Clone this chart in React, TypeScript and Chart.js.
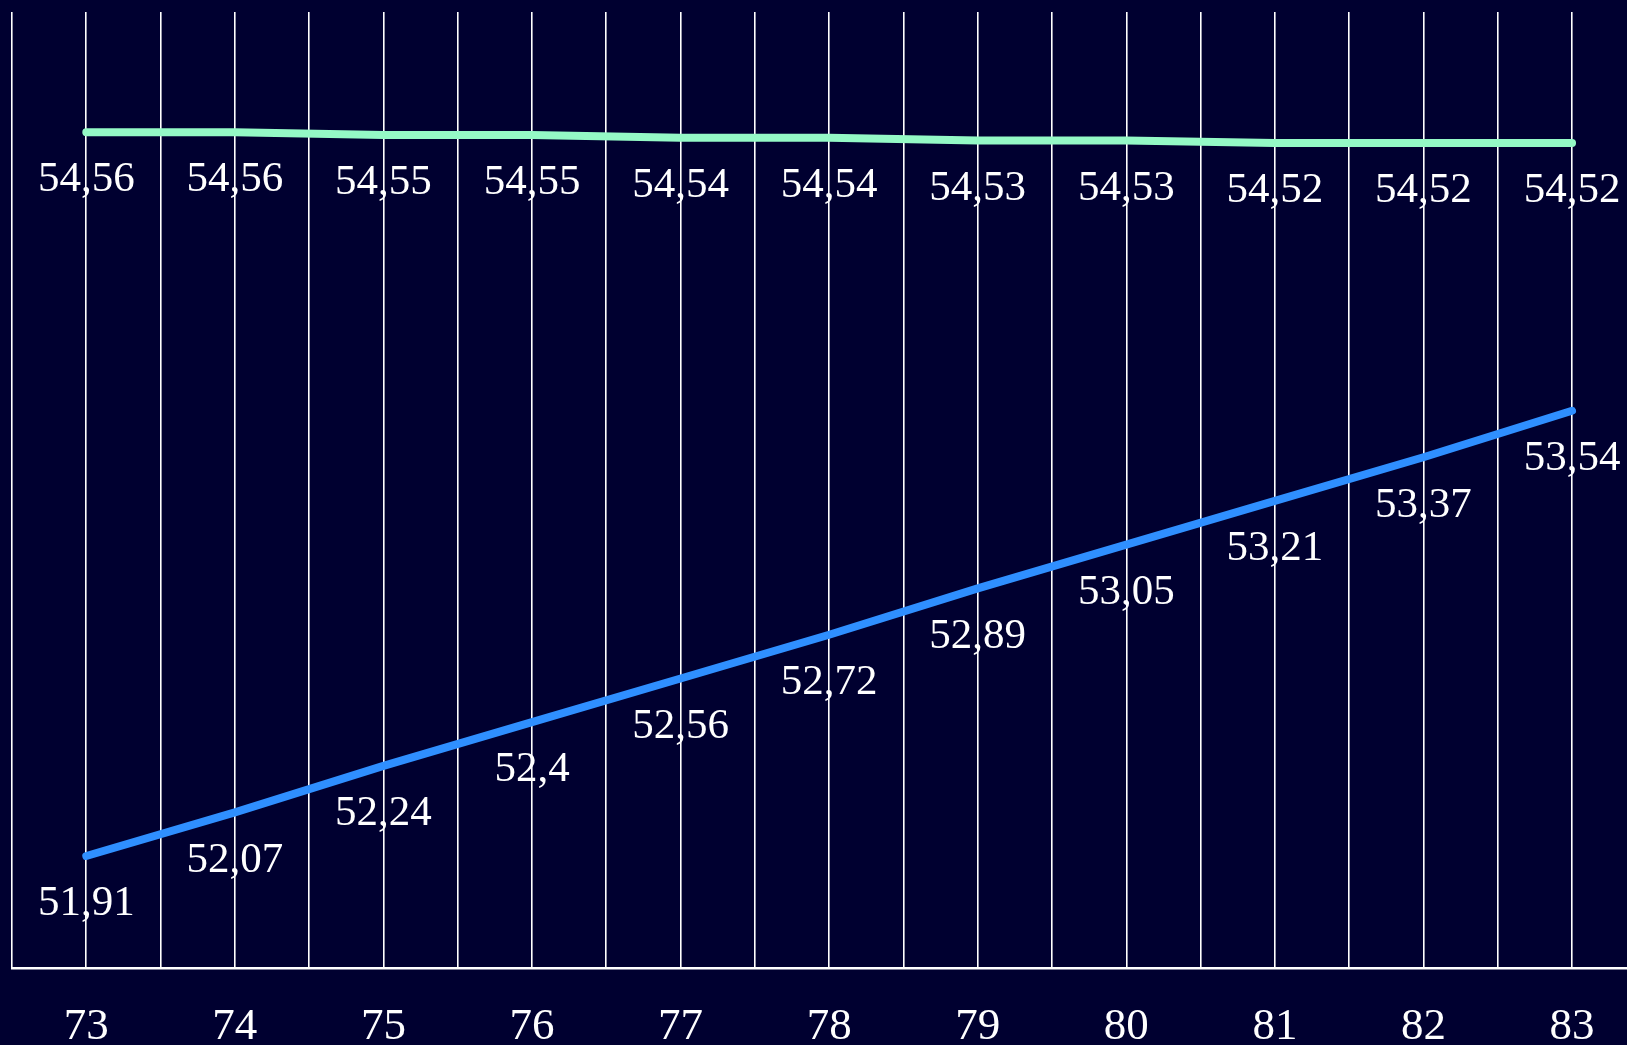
import React, { useEffect, useRef } from 'react';
import { Chart, registerables } from 'chart.js';

Chart.register(...registerables);

const years = [73, 74, 75, 76, 77, 78, 79, 80, 81, 82, 83];
const greenValues = [54.56, 54.56, 54.55, 54.55, 54.54, 54.54, 54.53, 54.53, 54.52, 54.52, 54.52];
const blueValues = [51.91, 52.07, 52.24, 52.4, 52.56, 52.72, 52.89, 53.05, 53.21, 53.37, 53.54];
const gridTicks = [72.5, 73, 73.5, 74, 74.5, 75, 75.5, 76, 76.5, 77, 77.5, 78, 78.5, 79, 79.5, 80, 80.5, 81, 81.5, 82, 82.5, 83];

const SERIF = '"Liberation Serif", "Times New Roman", serif';
const BG = '#000030';

const fmt = (v: number) => String(v).replace('.', ',');

export default function App() {
  const ref = useRef<HTMLCanvasElement>(null);

  useEffect(() => {
    if (!ref.current) return;
    const labelPlugin = {
      id: 'valueLabels',
      afterDatasetsDraw(chart: any) {
        const ctx = chart.ctx;
        ctx.save();
        ctx.font = `43px ${SERIF}`;
        ctx.fillStyle = '#ffffff';
        ctx.textAlign = 'center';
        ctx.textBaseline = 'middle';
        chart.data.datasets.forEach((ds: any, i: number) => {
          const meta = chart.getDatasetMeta(i);
          meta.data.forEach((pt: any, j: number) => {
            ctx.fillText(fmt(ds.data[j].y), pt.x, pt.y + 48);
          });
        });
        ctx.restore();
      },
    };

    const chart = new Chart(ref.current, {
      type: 'line',
      data: {
        datasets: [
          {
            data: years.map((x, i) => ({ x, y: greenValues[i] })),
            borderColor: '#94F9C6',
            borderWidth: 8,
            borderCapStyle: 'round',
            borderJoinStyle: 'round',
            pointRadius: 0,
            tension: 0,
            fill: false,
          },
          {
            data: years.map((x, i) => ({ x, y: blueValues[i] })),
            borderColor: '#2F8FFF',
            borderWidth: 8,
            borderCapStyle: 'round',
            borderJoinStyle: 'round',
            pointRadius: 0,
            tension: 0,
            fill: false,
          },
        ],
      },
      options: {
        animation: false,
        responsive: false,
        layout: { padding: { left: 12, top: 12, right: 0, bottom: 0 } },
        plugins: {
          legend: { display: false },
          tooltip: { enabled: false },
        },
        scales: {
          x: {
            type: 'linear',
            min: 72.5,
            max: 83.37,
            afterBuildTicks: (scale: any) => {
              scale.ticks = gridTicks.map((v) => ({ value: v }));
            },
            afterFit: (scale: any) => {
              scale.height = 77;
              scale.paddingLeft = 0;
              scale.paddingRight = 0;
            },
            grid: {
              color: '#ffffff',
              lineWidth: 1.6,
              drawTicks: false,
            },
            border: { color: '#ffffff', width: 2.5 },
            ticks: {
              autoSkip: false,
              maxRotation: 0,
              padding: 32,
              color: '#ffffff',
              font: { family: SERIF, size: 45 },
              callback: (v: any) => (Number.isInteger(Number(v)) ? String(v) : ''),
            },
          },
          y: {
            display: false,
            min: 51.5,
            max: 55,
          },
        },
      },
      plugins: [labelPlugin],
    } as any);
    return () => chart.destroy();
  }, []);

  return (
    <div style={{ position: 'fixed', left: 0, top: 0, width: 1627, height: 1045, background: BG }}>
      <canvas ref={ref} width={1627} height={1045} style={{ display: 'block' }} />
    </div>
  );
}
